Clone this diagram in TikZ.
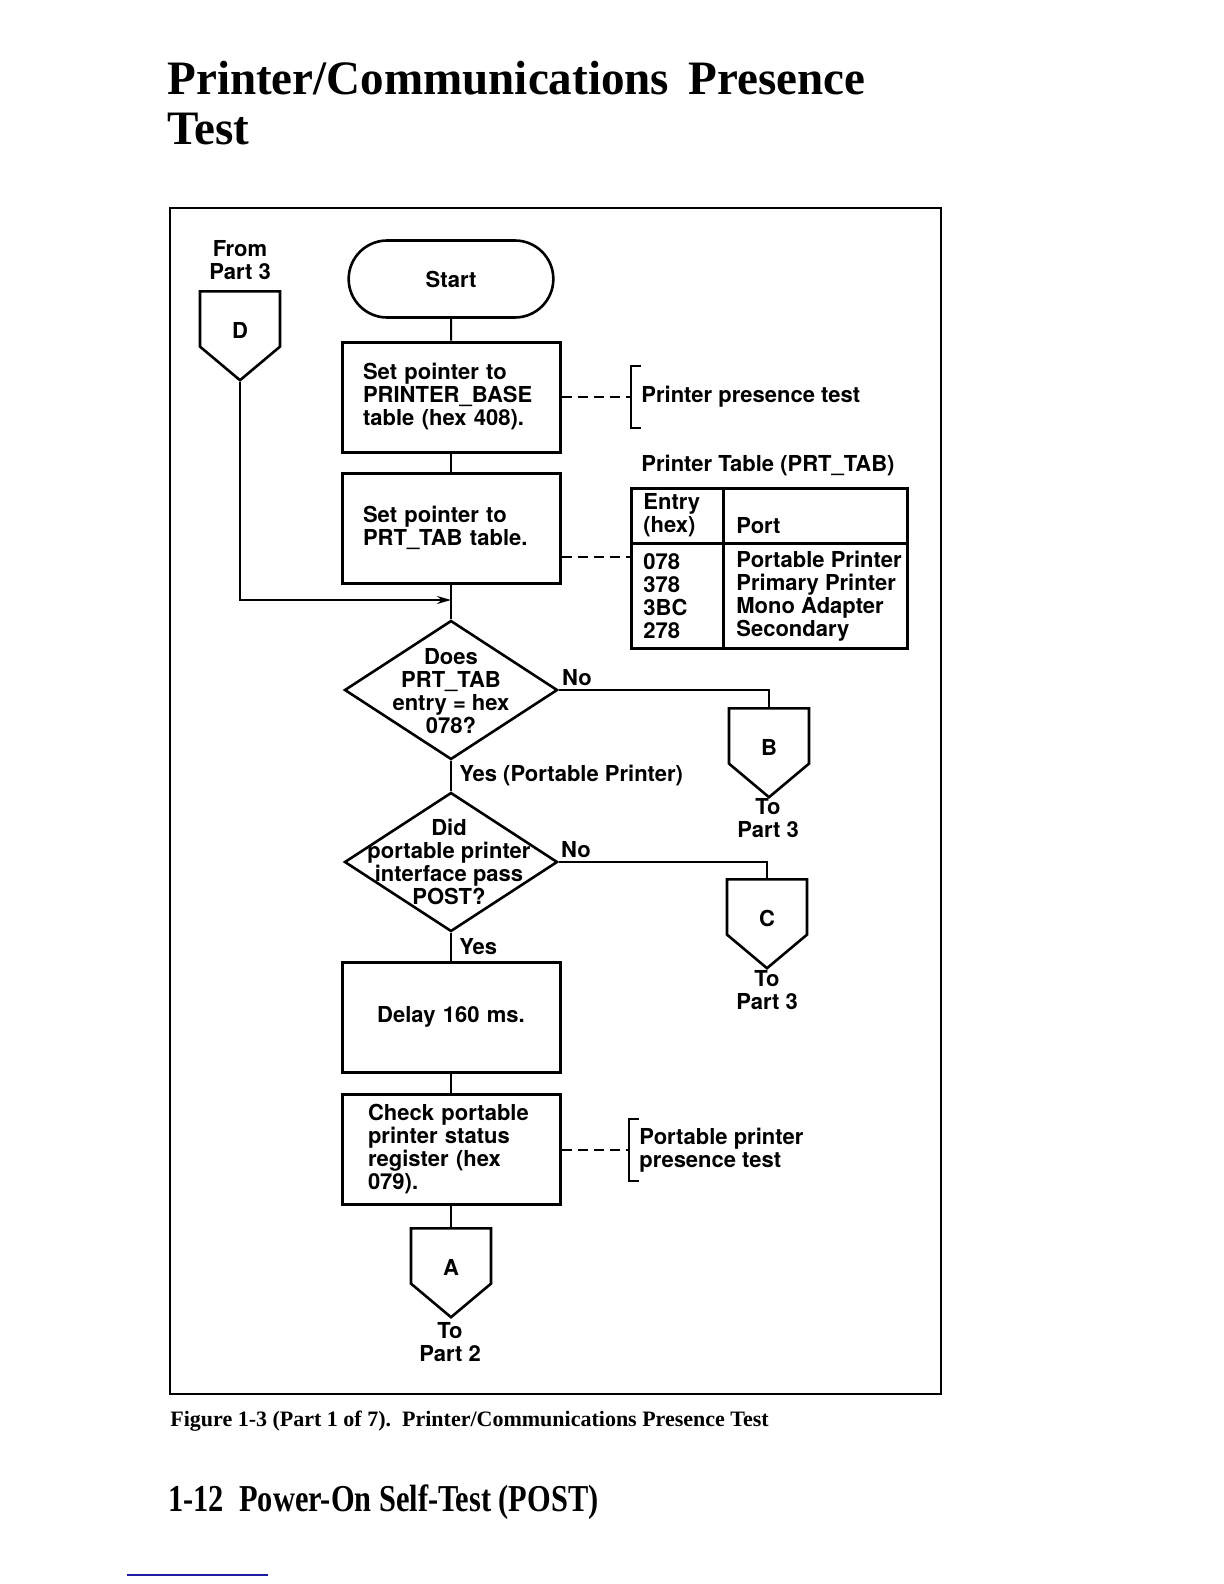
\documentclass[tikz,border=0pt]{standalone}
\usepackage{fontspec}
\setmainfont{TeX Gyre Heros}
\newfontfamily\titlefont{Liberation Serif}
\newfontfamily\headfont[FakeStretch=0.98]{Liberation Serif}
\newfontfamily\footfont[FakeStretch=0.8]{Liberation Serif}
\usetikzlibrary{arrows.meta,shapes.geometric,shapes.misc,shapes.symbols}

\definecolor{scanblue}{RGB}{30,30,160}

\tikzset{
    flowtext/.style={font=\bfseries\fontsize{11}{11.5}\selectfont},
    plain/.style={flowtext, inner sep=0pt, align=left},
    process/.style={draw, line width=1.5pt, rectangle, minimum width=109pt,
	minimum height=55pt, inner xsep=10.5pt, text width=88pt, align=left, flowtext},
    terminal/.style={draw, line width=1.3pt, rounded rectangle, minimum width=109pt,
	minimum height=38.5pt, flowtext},
    decision/.style={draw, line width=1.3pt, diamond, minimum width=106.5pt,
	minimum height=69.5pt, inner sep=0pt},
    offpage/.style={draw, line width=1.3pt, signal, signal to=south,
	signal pointer angle=100, minimum width=40pt, minimum height=31pt,
	inner sep=0pt, text height=19.5pt, text depth=0pt, flowtext},
    flowline/.style={line width=1pt},
    noteline/.style={line width=1pt, dash pattern=on 5pt off 3pt},
}

\begin{document}
\begin{tikzpicture}[x=0.5pt, y=-0.5pt]
    \useasboundingbox (0, 0) rectangle (1224, 1584);
    % heading
    \node [anchor=base west, inner sep=0pt, font=\headfont\bfseries\fontsize{24}{25}\selectfont]
	(head1) at (167, 95) {Printer/Communications\hspace{0.4em}Presence};
    \node [anchor=base west, inner sep=0pt, font=\headfont\bfseries\fontsize{24}{25}\selectfont]
	(head2) at (167, 145) {Test};
    \draw [line width=1.2pt] (170, 208) rectangle (941, 1394);

    % main column
    \node [terminal] (start) at (451, 279) {Start};
    \node [process] (setbase) at (451, 397)
	{Set pointer to\\PRINTER\_BASE\\table (hex 408).};
    \node [process] (setptr) at (451, 528)
	{Set pointer to\\PRT\_TAB table.};
    \coordinate (merge) at (451, 600);
    \node [decision] (isport) at (451, 690) {};
    \node [plain, align=center] (isporttxt) at (451, 691)
	{Does\\PRT\_TAB\\entry = hex\\078?};
    \node [decision] (didpass) at (451, 862) {};
    \node [plain, align=center] (didpasstxt) at (449, 862)
	{Did\\portable printer\\interface pass\\POST?};
    \node [process, align=center] (delay) at (451, 1017) {Delay 160 ms.};
    \node [process, inner xsep=13pt, text width=83pt] (chkstat) at (451, 1149)
	{Check portable\\printer status\\register (hex\\079).};

    % off-page connectors
    \node [plain, align=center] (fromd) at (240, 260) {From\\Part 3};
    \node [offpage, anchor=north] (conD) at (240, 290) {D};
    \node [offpage, anchor=north] (conB) at (769, 707) {B};
    \node [plain, align=center] (tob) at (768, 818) {To\\Part 3};
    \node [offpage, anchor=north] (conC) at (767, 878) {C};
    \node [plain, align=center] (toc) at (767, 990) {To\\Part 3};
    \node [offpage, anchor=north] (conA) at (451, 1227) {A};
    \node [plain, align=center] (toa) at (450, 1342) {To\\Part 2};

    % flow lines
    \draw [flowline] (start) -- (setbase);
    \draw [flowline] (setbase) -- (setptr);
    \draw [flowline] (setptr.south) -- (isport.north);
    \draw [flowline, -{Stealth[length=7pt, width=4pt]}] (conD.south) |- (merge);
    \draw [flowline] (isport.east) -| (conB.north);
    \draw [flowline] (isport.south) -- (didpass.north);
    \draw [flowline] (didpass.east) -| (conC.north);
    \draw [flowline] (didpass.south) -- (delay.north);
    \draw [flowline] (delay) -- (chkstat);
    \draw [flowline] (chkstat.south) -- (conA.north);
    \node [plain] (no1) at (577, 678) {No};
    \node [plain, anchor=west] (yes1) at (459, 775) {Yes (Portable Printer)};
    \node [plain] (no2) at (576, 850) {No};
    \node [plain, anchor=west] (yes2) at (459, 947) {Yes};

    % notes
    \coordinate (brk1) at (631, 397);
    \draw [noteline] (setbase.east) -- (brk1);
    \draw [flowline] (brk1) ++(10, -31) -- ++(-10, 0) -- ++(0, 62) -- ++(10, 0);
    \node [plain, anchor=west] (note1) at (641, 397) {Printer presence test};
    \coordinate (brk2) at (629, 1150);
    \draw [noteline] (chkstat.east |- brk2) -- (brk2);
    \draw [flowline] (brk2) ++(10, -31) -- ++(-10, 0) -- ++(0, 62) -- ++(10, 0);
    \node [plain, anchor=west] (note2) at (639, 1150) {Portable printer\\presence test};

    % printer table
    \node [plain, anchor=west] (tabtitle) at (641, 465) {Printer Table (PRT\_TAB)};
    \node [draw, line width=1.5pt, minimum width=138pt, minimum height=80pt,
	inner sep=0pt] (prttab) at (769, 568) {};
    \draw [line width=1.5pt] (prttab.west |- 0, 543) -- (prttab.east |- 0, 543);
    \draw [line width=1.5pt] (prttab.north -| 723, 0) -- (prttab.south -| 723, 0);
    \node [plain, anchor=west] (enthead) at (643, 515) {Entry\\(hex)};
    \node [plain, anchor=west] (porthead) at (736, 526) {Port};
    \node [plain, anchor=west] (entries) at (643, 596) {078\\378\\3BC\\278};
    \node [plain, anchor=west] (ports) at (736, 596)
	{Portable Printer\\Primary Printer\\Mono Adapter\\Secondary};
    \coordinate (tabin) at (631, 557);
    \draw [noteline] (setptr.east |- tabin) -- (tabin);

    % caption and footer
    \node [anchor=base west, inner sep=0pt, font=\titlefont\bfseries\fontsize{11}{13}\selectfont]
	(caption) at (170, 1426) {Figure 1-3 (Part 1 of 7).\ \ Printer/Communications Presence Test};
    \node [anchor=base west, inner sep=0pt, font=\footfont\bfseries\fontsize{19}{22}\selectfont]
	(footer) at (168, 1511) {1-12\ \ Power-On Self-Test (POST)};
    \draw [scanblue, line width=1pt] (127, 1575) -- (268, 1575);
\end{tikzpicture}
\end{document}
